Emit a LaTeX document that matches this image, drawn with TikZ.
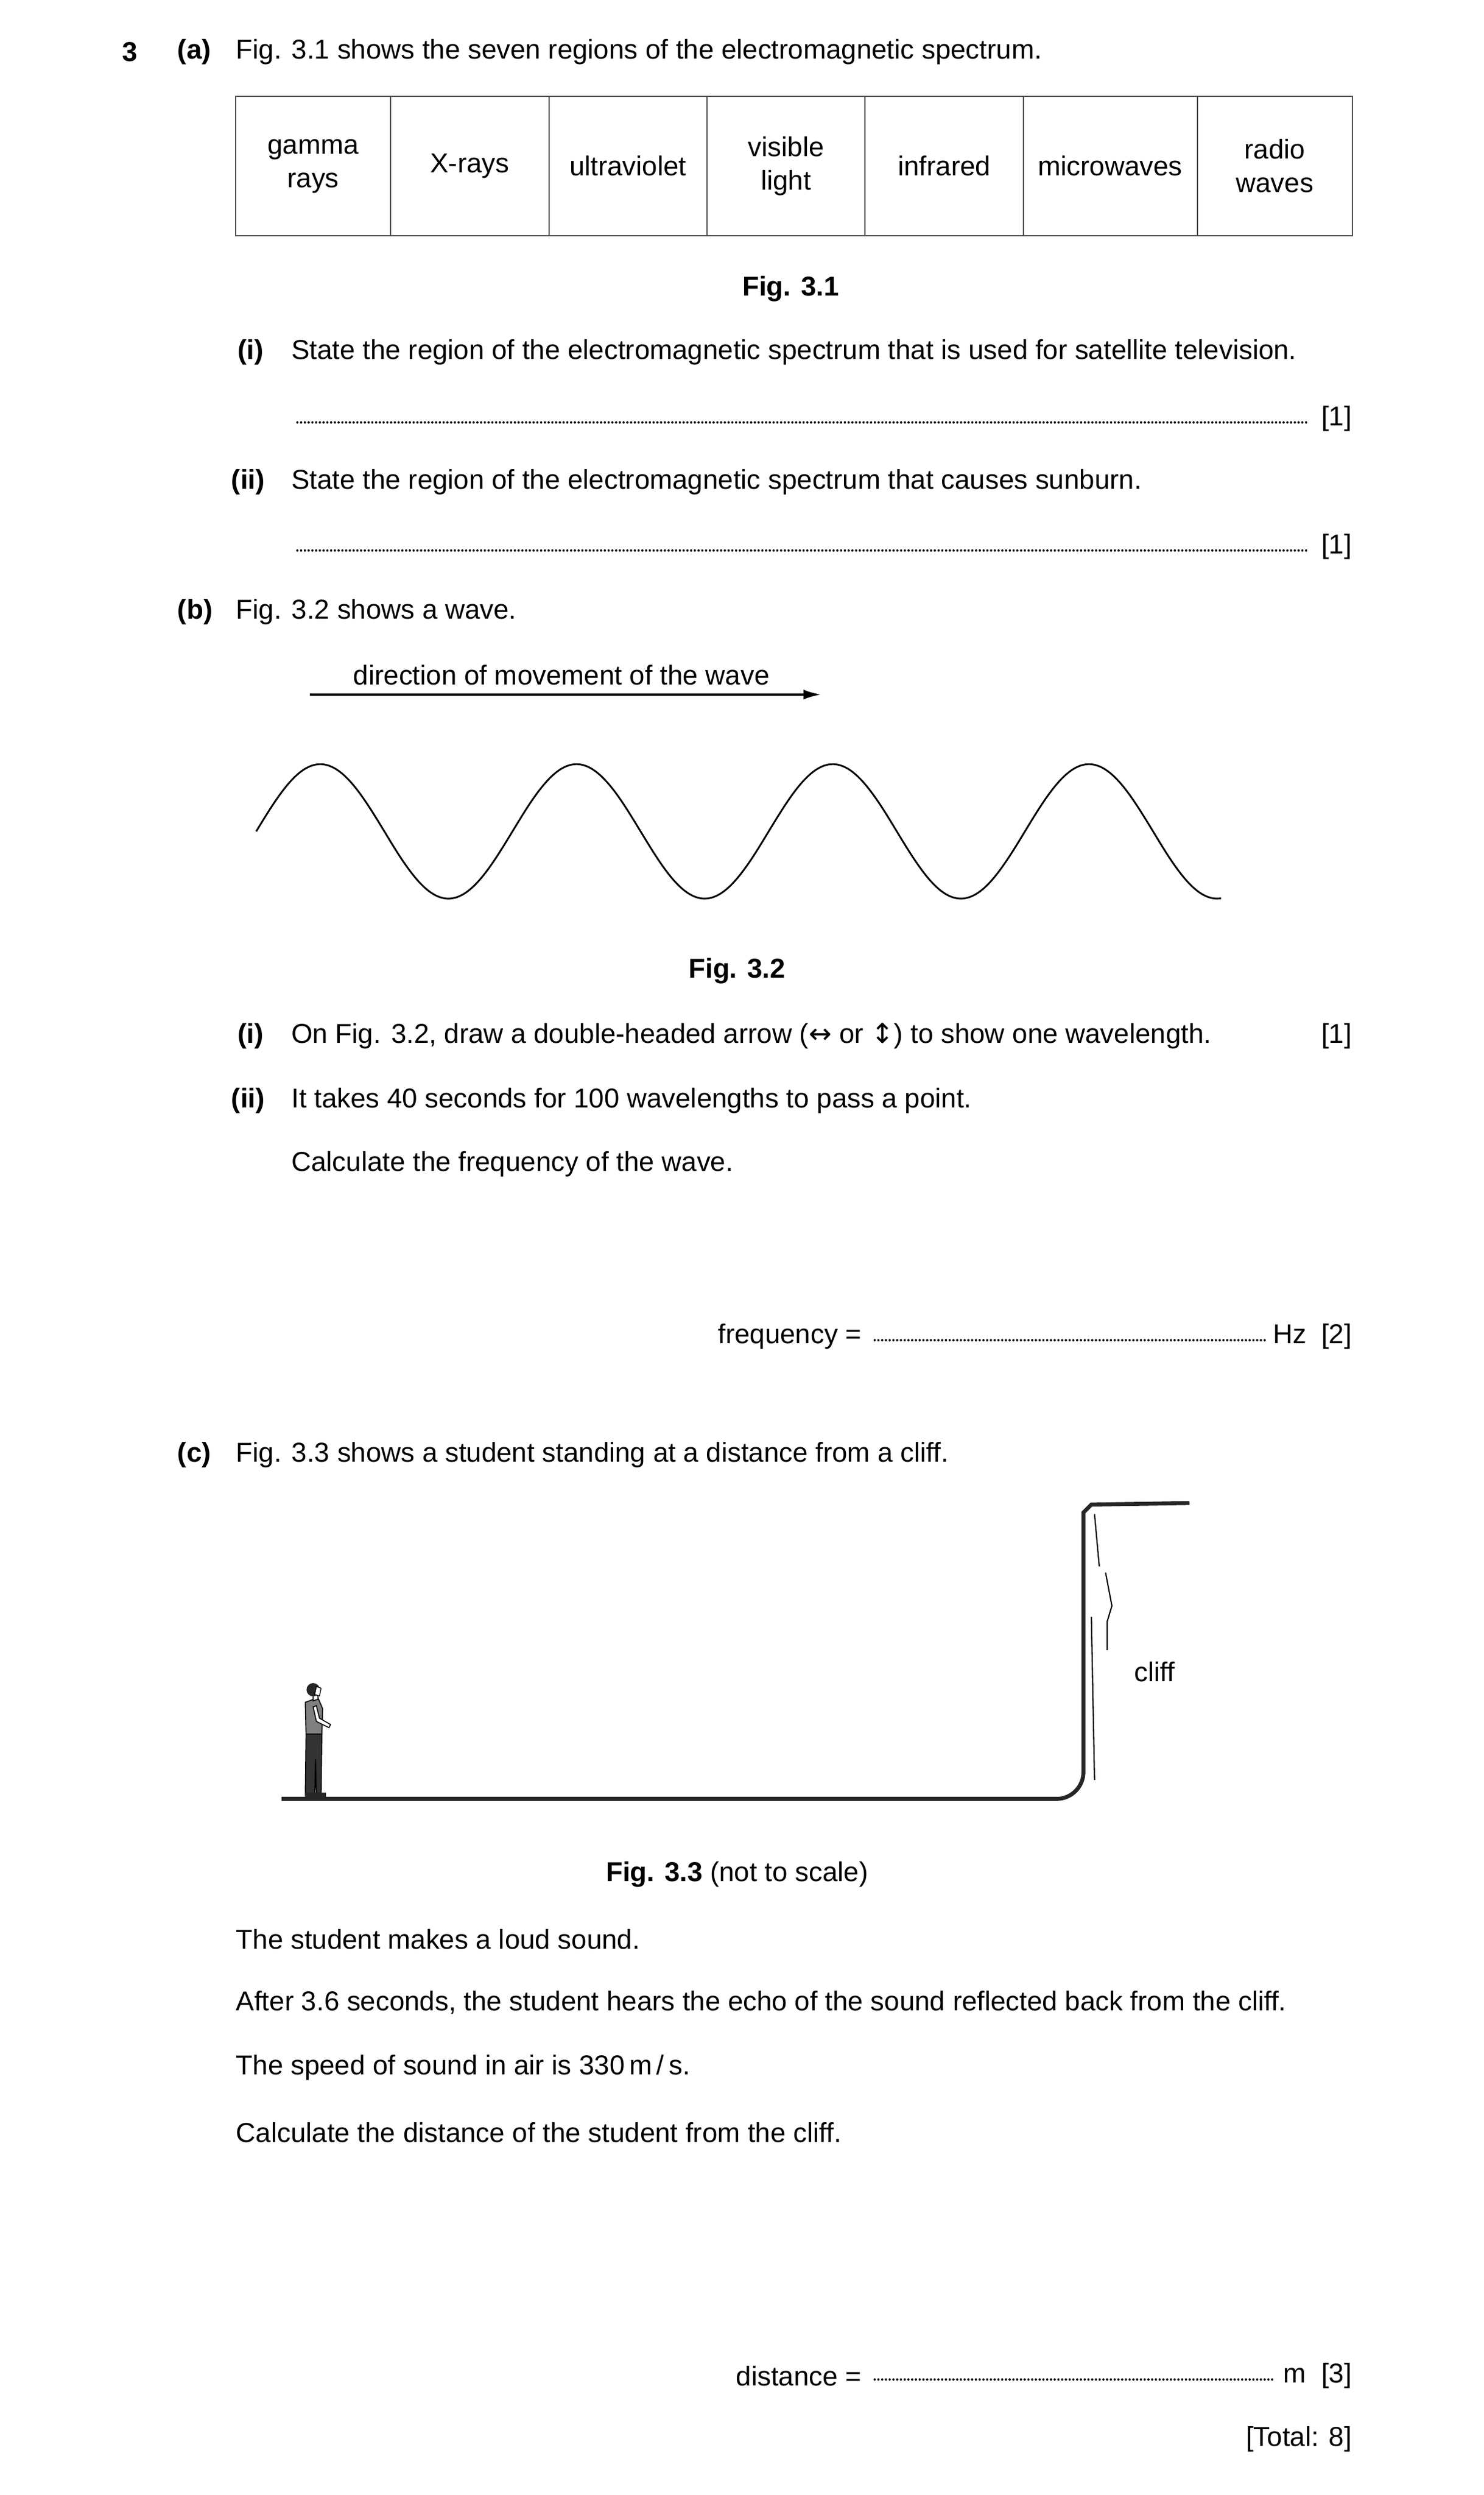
\documentclass[tikz,border=0pt]{standalone}
\usepackage{fontspec}
\setmainfont{Liberation Sans}
\newfontfamily\symfont{DejaVu Sans}
\usetikzlibrary{arrows.meta}
\tikzset{txt/.style={anchor=west,inner sep=0pt,yshift=-3pt,font=\fontsize{11}{13.5}\selectfont},
  lbl/.style={txt,font=\fontsize{11}{13.5}\selectfont\bfseries},
  cell/.style={inner sep=0pt,align=center,font=\fontsize{11}{13.5}\selectfont},
  dots/.style={line width=0.9pt,dash pattern=on 0.01pt off 1.5pt,line cap=round}}
\begin{document}
\begin{tikzpicture}[x=0.022388cm,y=-0.022388cm]
	\useasboundingbox (0,0) rectangle (938,1577);
	% part (a)
	\node[lbl] (q) at (77,28) {3};
	\node[lbl] (pa) at (112,28) {(a)};
	\node[txt] (ta) at (149,28) {Fig. 3.1 shows the seven regions of the electromagnetic spectrum.};
	\draw[line width=0.5pt,black!70] (149,61) rectangle (855,149);
	\foreach \x in {247,347,447,547,647,757}
		\draw[line width=0.5pt,black!70] (\x,61) -- (\x,149);
	\node[cell] (c1) at (198,105) {gamma\\rays};
	\node[cell] (c2) at (297,105) {X-rays};
	\node[cell] (c3) at (397,105) {ultraviolet};
	\node[cell] (c4) at (497,105) {visible\\light};
	\node[cell] (c5) at (597,105) {infrared};
	\node[cell] (c6) at (702,105) {microwaves};
	\node[cell] (c7) at (806,105) {radio\\waves};
	\node[lbl,anchor=center] (f1) at (500,178) {Fig. 3.1};
	\node[lbl] (ai) at (150,218) {(i)};
	\node[txt] (tai) at (184,218) {State the region of the electromagnetic spectrum that is used for satellite television.};
	\draw[dots] (188,267) -- (826,267);
	\node[txt,anchor=east] (m1) at (855,260) {[1]};
	\node[lbl] (aii) at (146,300) {(ii)};
	\node[txt] (taii) at (184,300) {State the region of the electromagnetic spectrum that causes sunburn.};
	\draw[dots] (188,348) -- (826,348);
	\node[txt,anchor=east] (m2) at (855,341) {[1]};
	% part (b)
	\node[lbl] (pb) at (112,382) {(b)};
	\node[txt] (tb) at (149,382) {Fig. 3.2 shows a wave.};
	\node[txt,anchor=center] (dir) at (355,422) {direction of movement of the wave};
	\coordinate (d1) at (196,439);
	\coordinate (d2) at (519,439);
	\draw[line width=0.8pt,-{Latex[length=7pt,width=4pt]}] (d1) -- (d2);
	\draw[line width=0.7pt,domain=162:772,samples=200,smooth] plot (\x,{525.5-42.5*sin(2.2222*(\x-162))});
	\node[lbl,anchor=center] (f2) at (466,609) {Fig. 3.2};
	\node[lbl] (bi) at (150,650) {(i)};
	\node[txt] (tbi) at (184,650) {On Fig. 3.2, draw a double-headed arrow ({\symfont\char"2194} or {\symfont\char"2195}) to show one wavelength.};
	\node[txt,anchor=east] (m3) at (855,650) {[1]};
	\node[lbl] (bii) at (146,691) {(ii)};
	\node[txt] (tbii) at (184,691) {It takes 40 seconds for 100 wavelengths to pass a point.};
	\node[txt] (calc) at (184,731) {Calculate the frequency of the wave.};
	\node[txt,anchor=east] (fr) at (545,840) {frequency =};
	\draw[dots] (553,847) -- (800,847);
	\node[txt,anchor=east] (m4) at (855,840) {Hz\ \ [2]};
	% part (c)
	\node[lbl] (pc) at (112,915) {(c)};
	\node[txt] (tc) at (149,915) {Fig. 3.3 shows a student standing at a distance from a cliff.};
	\draw[line width=1.6pt,black!85] (178,1137) -- (668,1137) arc (90:0:17) -- (685,956) -- (690,951) -- (752,950);
	\draw[line width=0.5pt] (692,957) -- (695,990);
	\draw[line width=0.5pt] (699,994) -- (703,1015) -- (700,1025) -- (700,1043);
	\draw[line width=0.5pt] (690,1022) -- (692,1125);
	\node[txt] (cl) at (717,1052) {cliff};
	% student
	\fill[black!80,draw=black,line width=0.4pt] (193.5,1096) -- (193,1135) -- (199,1135) -- (199.5,1112) -- (200,1135) -- (203,1135) -- (203.5,1096) -- cycle;
	\fill[black!50,draw=black,line width=0.4pt] (193,1076) -- (201,1073) -- (204,1080) -- (203.5,1096) -- (193.5,1096) -- cycle;
	\draw[fill=white,line width=0.4pt] (198,1079) -- (200,1088) -- (208,1092) -- (209,1090) -- (202,1086) -- (200,1078) -- cycle;
	\fill[black!85] (193,1133) rectangle (206,1138);
	\draw[fill=white,line width=0.4pt] (198,1071) -- (198,1075) -- (201,1074) -- (201,1071) -- cycle;
	\fill[black!85] (198,1068) circle (4.2);
	\draw[fill=white,line width=0.3pt] (200,1066) -- (203,1067) -- (202,1072) -- (199,1071) -- cycle;
	\node[txt,anchor=center] (f3) at (466,1180) {\textbf{Fig. 3.3} (not to scale)};
	\node[txt] (s1) at (149,1221) {The student makes a loud sound.};
	\node[txt] (s2) at (149,1261) {After 3.6 seconds, the student hears the echo of the sound reflected back from the cliff.};
	\node[txt] (s3) at (149,1302) {The speed of sound in air is 330\,m\,/\,s.};
	\node[txt] (s4) at (149,1343) {Calculate the distance of the student from the cliff.};
	\node[txt,anchor=east] (ds) at (545,1497) {distance =};
	\draw[dots] (553,1504) -- (805,1504);
	\node[txt,anchor=east] (m5) at (855,1497) {m\ \ [3]};
	\node[txt,anchor=east] (tot) at (855,1537) {[Total: 8]};
\end{tikzpicture}
\end{document}
